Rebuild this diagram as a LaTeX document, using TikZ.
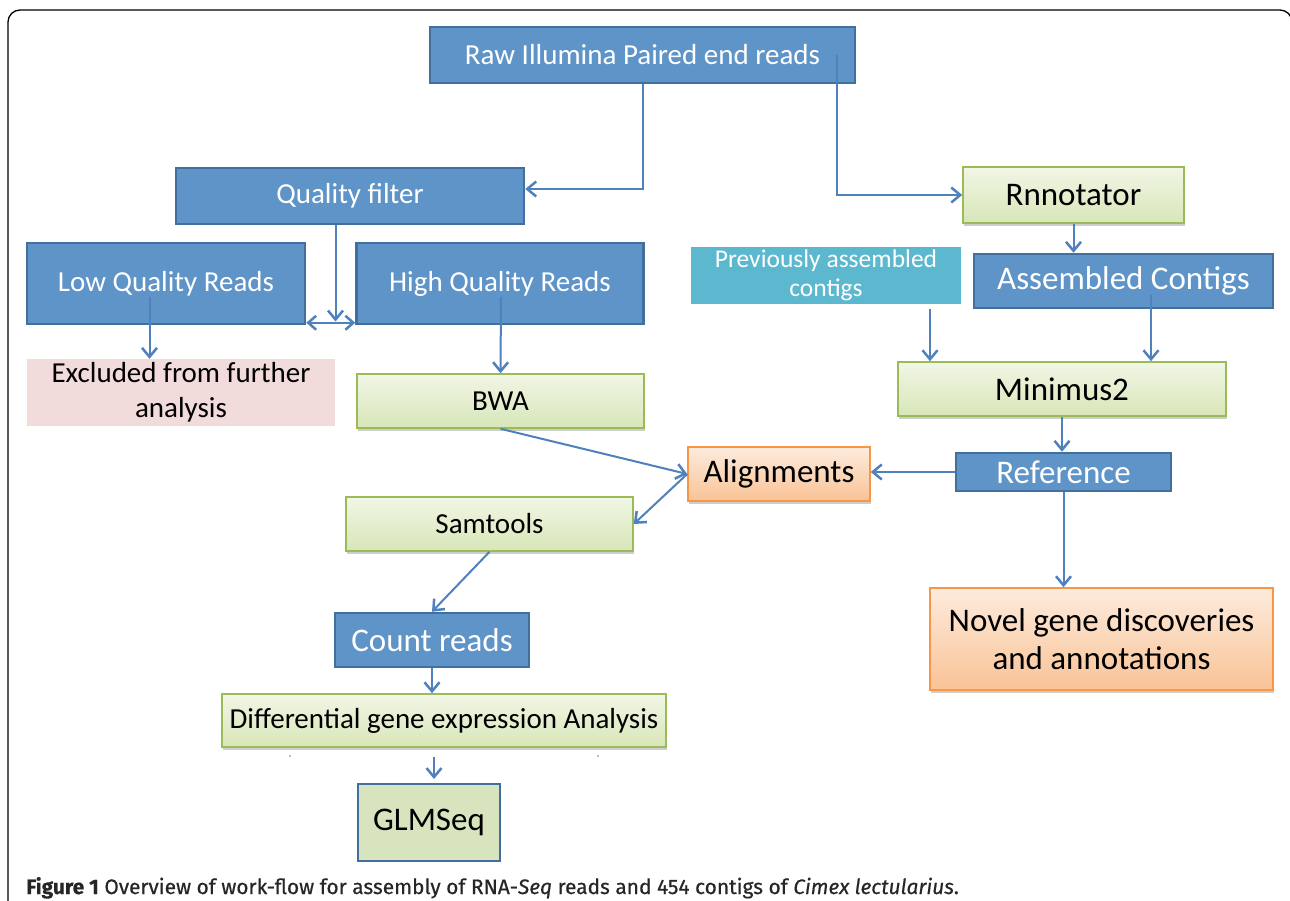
\documentclass[tikz,border=0pt]{standalone}
\usepackage{fontspec}
\setmainfont{Carlito}
\newfontfamily\capfont{Fira Sans}[FakeBold=0.5]
\usetikzlibrary{arrows.meta,shadows,calc}
\definecolor{bfill}{HTML}{5F94C8}
\definecolor{bdraw}{HTML}{41709F}
\definecolor{gdraw}{HTML}{9BBB59}
\definecolor{gtop}{HTML}{F1F6E6}
\definecolor{gbot}{HTML}{D8E6B8}
\definecolor{otop}{HTML}{FDEBDD}
\definecolor{obot}{HTML}{F9C396}
\definecolor{odraw}{HTML}{F79646}
\definecolor{tealc}{HTML}{5BB8CF}
\definecolor{pinkc}{HTML}{F2DCDB}
\definecolor{glmfill}{HTML}{D7E4BD}
\definecolor{arrc}{HTML}{4F81BD}
\newcommand\fsA{\fontsize{29}{35}\selectfont}
\newcommand\fsB{\fontsize{33}{38}\selectfont}
\newcommand\fsC{\fontsize{25.5}{29}\selectfont}
\begin{document}
\begin{tikzpicture}[x=1pt,y=-1pt,
  box/.style={inner sep=0pt, align=center},
  bluebox/.style={box, fill=bfill, draw=bdraw, line width=2.5pt, text=white},
  shad/.style={drop shadow={shadow xshift=0.5pt, shadow yshift=-3pt, opacity=0.28, fill=black!70}},
  greenbox/.style={box, shad, top color=gtop, bottom color=gbot, draw=gdraw, line width=1.6pt, text=black},
  orangebox/.style={box, shad, top color=otop, bottom color=obot, draw=odraw, line width=1.6pt, text=black},
  arr/.style={draw=arrc, line width=2pt, -{Straight Barb[length=9pt,width=15pt,line width=2.5pt]}},
  arrboth/.style={draw=arrc, line width=2pt, {Straight Barb[length=8pt,width=14pt,line width=2.5pt]}-{Straight Barb[length=8pt,width=14pt,line width=2.5pt]}}
]
\useasboundingbox (0,0) rectangle (1290,901);
\fill[white] (0,0) rectangle (1290,901);
\draw[line width=1.3pt, rounded corners=12pt] (8,920) -- (8,10) -- (1292,10) -- (1292,920);

% nodes
\node[bluebox, minimum width=425pt, minimum height=56pt, font=\fsA] (raw) at (642.5,55) {Raw Illumina Paired end reads};
\node[bluebox, minimum width=348pt, minimum height=56pt, font=\fsA] (qf) at (350,196) {Quality filter};
\node[bluebox, minimum width=278pt, minimum height=81pt, font=\fsA] (low) at (166,283.5) {Low Quality Reads};
\node[bluebox, minimum width=287pt, minimum height=81pt, font=\fsA] (high) at (500,283.5) {High Quality Reads};
\node[box, fill=pinkc, minimum width=308pt, minimum height=67pt, font=\fsA] (excl) at (181,392.5) {Excluded from further\\analysis};
\node[greenbox, minimum width=287pt, minimum height=54pt, font=\fsA] (bwa) at (500.5,401) {BWA};
\node[greenbox, minimum width=221pt, minimum height=56pt, font=\fsB] (rnn) at (1073.5,195) {Rnnotator};
\node[box, drop shadow={shadow xshift=0pt, shadow yshift=-2.5pt, opacity=0.3, fill=black!70}, fill=tealc, draw=white, line width=5pt, minimum width=275pt, minimum height=62pt, text=white, font=\fsC] (prev) at (826,275.5) {Previously assembled\\contigs};
\node[bluebox, minimum width=299pt, minimum height=54pt, font=\fsB] (asm) at (1123.5,281) {Assembled Contigs};
\node[greenbox, minimum width=328pt, minimum height=54pt, font=\fsB] (mini) at (1062,389) {Minimus2};
\node[orangebox, minimum width=182pt, minimum height=54pt, font=\fsB] (align) at (779,474) {Alignments};
\node[bluebox, minimum width=215pt, minimum height=38pt, font=\fsB] (ref) at (1063.5,472) {Reference};
\node[orangebox, minimum width=343pt, minimum height=102pt, font=\fsB] (novel) at (1101.5,639) {Novel gene discoveries\\and annotations};
\node[greenbox, minimum width=287pt, minimum height=54pt, font=\fsA] (sam) at (489.5,524) {Samtools};
\node[bluebox, minimum width=194pt, minimum height=54pt, font=\fsB] (count) at (432,640) {Count reads};
\node[greenbox, minimum width=444pt, minimum height=53pt, font=\fsA] (diff) at (444,720.5) {Differential gene expression Analysis};
\node[box, fill=glmfill, draw=bdraw, line width=2.5pt, minimum width=142pt, minimum height=77pt, font=\fsB] (glm) at (429,822.5) {GLMSeq};
\node[anchor=base west, inner sep=0pt, text=black!85, font=\capfont\fontsize{20.9}{24}\selectfont] (cap) at (26,894) {\textbf{Figure 1} Overview of work-flow for assembly of RNA-\textit{Seq} reads and 454 contigs of \textit{Cimex lectularius}.};

% coordinates
\coordinate (split) at (335.5,321.5);
\coordinate (dg1) at (434,757);
\coordinate (dg2) at (434,779);

% connectors
\draw[arr] (raw.south) |- ([yshift=7pt]qf.east);
\draw[arr] ([xshift=194pt]raw.center) |- (rnn.west);
\draw[arr] ([xshift=-14.5pt]qf.south) -- (split);
\draw[arrboth] ([yshift=2.5pt]low.south east) -- ([yshift=2.5pt]high.south west);
\draw[arr] ([xshift=-16.5pt,yshift=-13.5pt]low.center) -- ([xshift=-31.5pt]excl.north);
\draw[arr] ([xshift=1pt,yshift=-13.5pt]high.center) -- (bwa.north);
\draw[arr] (bwa.south) -- (align.west);
\draw[arr] (align.west) -- (sam.east);
\draw[arr] (ref.west) -- (ref.west -| align.east);
\draw[arr] (rnn.south) -- (rnn.south |- asm.north);
\draw[arr] ([xshift=104pt]prev.south) -- ([xshift=104pt]prev.south |- mini.north);
\draw[arr] ([xshift=27.5pt,yshift=-14pt]asm.center) -- ([xshift=27.5pt]asm.center |- mini.north);
\draw[arr] (mini.south) -- (mini.south |- ref.north);
\draw[arr] (ref.south) -- (ref.south |- novel.north);
\draw[arr] (sam.south) -- (count.north);
\draw[arr] (count.south) -- (count.south |- diff.north);
\draw[arr] (dg1) -- (dg2);
\fill[arrc] (290,756) circle (0.9pt) (598,756) circle (0.9pt);
\end{tikzpicture}
\end{document}
